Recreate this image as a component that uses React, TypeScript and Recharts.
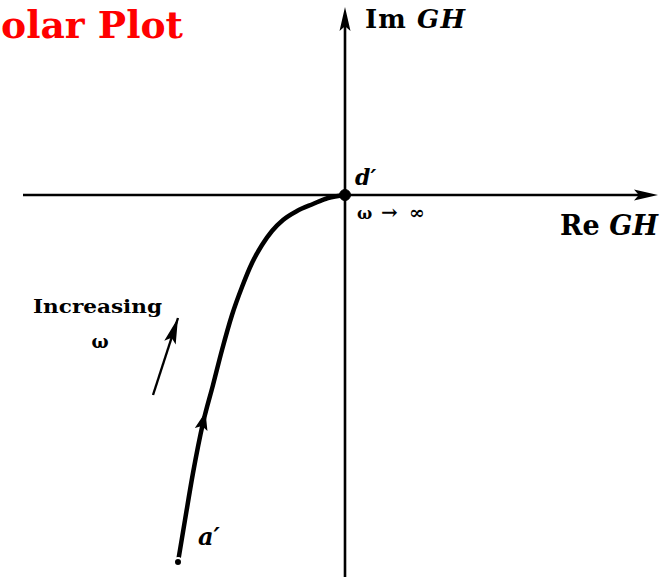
import React from 'react';
import { ComposedChart, Line, XAxis, YAxis, ReferenceLine, ReferenceDot } from 'recharts';

// Polar plot of GH(jω): locus from a′ (low ω) to d′ at the origin (ω → ∞)
const curveRe = [-1.67, -1.6, -1.52, -1.42, -1.32, -1.23, -1.13, -1.03, -0.93, -0.83, -0.73, -0.62, -0.48, -0.32, -0.17, 0];
const curveIm = [-3.67, -3.25, -2.78, -2.28, -1.9, -1.55, -1.2, -0.92, -0.68, -0.5, -0.36, -0.25, -0.16, -0.09, -0.03, 0];

const reDomain = [-3.45, 3.22];
const imDomain = [-3.82, 1.95];

// axis extents (Re from left end to arrow tip, Im from bottom to arrow tip)
const reAxis = [-3.22, 3.13];
const imAxis = [-3.82, 1.88];

// "Increasing ω" pointer: tail and tip
const incTail = { x: -1.92, y: -2.0 };
const incTip = { x: -1.67, y: -1.23 };

// direction marker on the locus
const locusArrow = { x: -1.395, y: -2.17 };

const data = curveRe.map((re, i) => ({ re, im: curveIm[i] }));

const SERIF = '"DejaVu Serif", "Liberation Serif", serif';

const arrowHead = (angle: number, len: number, width: number) => (props: any) => {
  const { cx, cy } = props;
  if (cx == null || cy == null) return <g />;
  const h = width / 2;
  return (
    <g transform={`translate(${cx},${cy}) rotate(${angle})`}>
      <polygon points={`0,0 ${-len},${-h} ${-len * 0.8},0 ${-len},${h}`} fill="#000" />
    </g>
  );
};

const textShape = (render: () => React.ReactNode) => (props: any) => {
  const { cx, cy } = props;
  if (cx == null || cy == null) return <g />;
  return <g transform={`translate(${cx},${cy})`}>{render()}</g>;
};

export default function App() {
  return (
    <div style={{ position: 'absolute', left: 0, top: 0, width: 667, height: 577, background: '#fff' }}>
      <ComposedChart width={667} height={577} data={data} margin={{ top: 0, right: 0, bottom: 0, left: 0 }}>
        <XAxis dataKey="re" type="number" domain={reDomain} hide allowDataOverflow />
        <YAxis type="number" domain={imDomain} hide allowDataOverflow />
        <ReferenceLine
          segment={[{ x: reAxis[0], y: 0 }, { x: reAxis[1] - 0.1, y: 0 }]}
          stroke="#000"
          strokeWidth={2.6}
          ifOverflow="visible"
        />
        <ReferenceLine
          segment={[{ x: 0, y: imAxis[0] }, { x: 0, y: imAxis[1] - 0.1 }]}
          stroke="#000"
          strokeWidth={2.6}
          ifOverflow="visible"
        />
        <ReferenceLine segment={[incTail, incTip]} stroke="#000" strokeWidth={2.4} ifOverflow="visible" />
        <Line
          dataKey="im"
          type="monotone"
          stroke="#000"
          strokeWidth={4.5}
          dot={false}
          isAnimationActive={false}
        />
        <ReferenceDot x={reAxis[1]} y={0} r={1} ifOverflow="visible" shape={arrowHead(0, 24, 11)} />
        <ReferenceDot x={0} y={imAxis[1]} r={1} ifOverflow="visible" shape={arrowHead(-90, 24, 11)} />
        <ReferenceDot x={incTip.x} y={incTip.y} r={1} shape={arrowHead(-72, 26, 12)} />
        <ReferenceDot x={locusArrow.x} y={locusArrow.y} r={1} shape={arrowHead(-76, 18, 13)} />
        <ReferenceDot x={0} y={0} r={5.5} fill="#000" stroke="#000" />
        <ReferenceDot
          x={0.2}
          y={1.67}
          r={1}
          shape={textShape(() => (
            <text x={0} y={0} fontFamily={SERIF} fontWeight="bold" fontSize={26} textLength={100} lengthAdjust="spacing">
              Im <tspan fontStyle="italic">GH</tspan>
            </text>
          ))}
        />
        <ReferenceDot
          x={2.15}
          y={-0.4}
          r={1}
          shape={textShape(() => (
            <text x={0} y={0} fontFamily={SERIF} fontWeight="bold" fontSize={27} textLength={98} lengthAdjust="spacing">
              Re <tspan fontStyle="italic">GH</tspan>
            </text>
          ))}
        />
        <ReferenceDot
          x={0.1}
          y={0.1}
          r={1}
          shape={textShape(() => (
            <text x={0} y={0} fontFamily={SERIF} fontWeight="bold" fontStyle="italic" fontSize={22}>
              d′
            </text>
          ))}
        />
        <ReferenceDot
          x={0.12}
          y={-0.24}
          r={1}
          shape={textShape(() => (
            <text x={0} y={0} fontFamily={SERIF} fontWeight="bold" fontSize={16}>
              <tspan x={0}>ω</tspan>
              <tspan x={24} fontSize={20}>→</tspan>
              <tspan x={52} fontSize={19}>∞</tspan>
            </text>
          ))}
        />
        <ReferenceDot
          x={-3.12}
          y={-1.18}
          r={1}
          shape={textShape(() => (
            <text x={0} y={0} fontFamily={SERIF} fontWeight="bold" fontSize={18} textLength={129} lengthAdjust="spacingAndGlyphs">
              Increasing
            </text>
          ))}
        />
        <ReferenceDot
          x={-2.45}
          y={-1.53}
          r={1}
          shape={textShape(() => (
            <text x={0} y={0} fontFamily={SERIF} fontWeight="bold" fontSize={18} textAnchor="middle">
              ω
            </text>
          ))}
        />
        <ReferenceDot
          x={-1.47}
          y={-3.5}
          r={1}
          shape={textShape(() => (
            <text x={0} y={0} fontFamily={SERIF} fontWeight="bold" fontStyle="italic" fontSize={24}>
              a′
            </text>
          ))}
        />
      </ComposedChart>
      <svg width={667} height={60} style={{ position: 'absolute', left: 0, top: 0, pointerEvents: 'none' }}>
        <text x={1} y={38} fontFamily={SERIF} fontWeight="bold" fontSize={38} fill="#ff0000" textLength={182} lengthAdjust="spacingAndGlyphs">
          olar Plot
        </text>
      </svg>
    </div>
  );
}
